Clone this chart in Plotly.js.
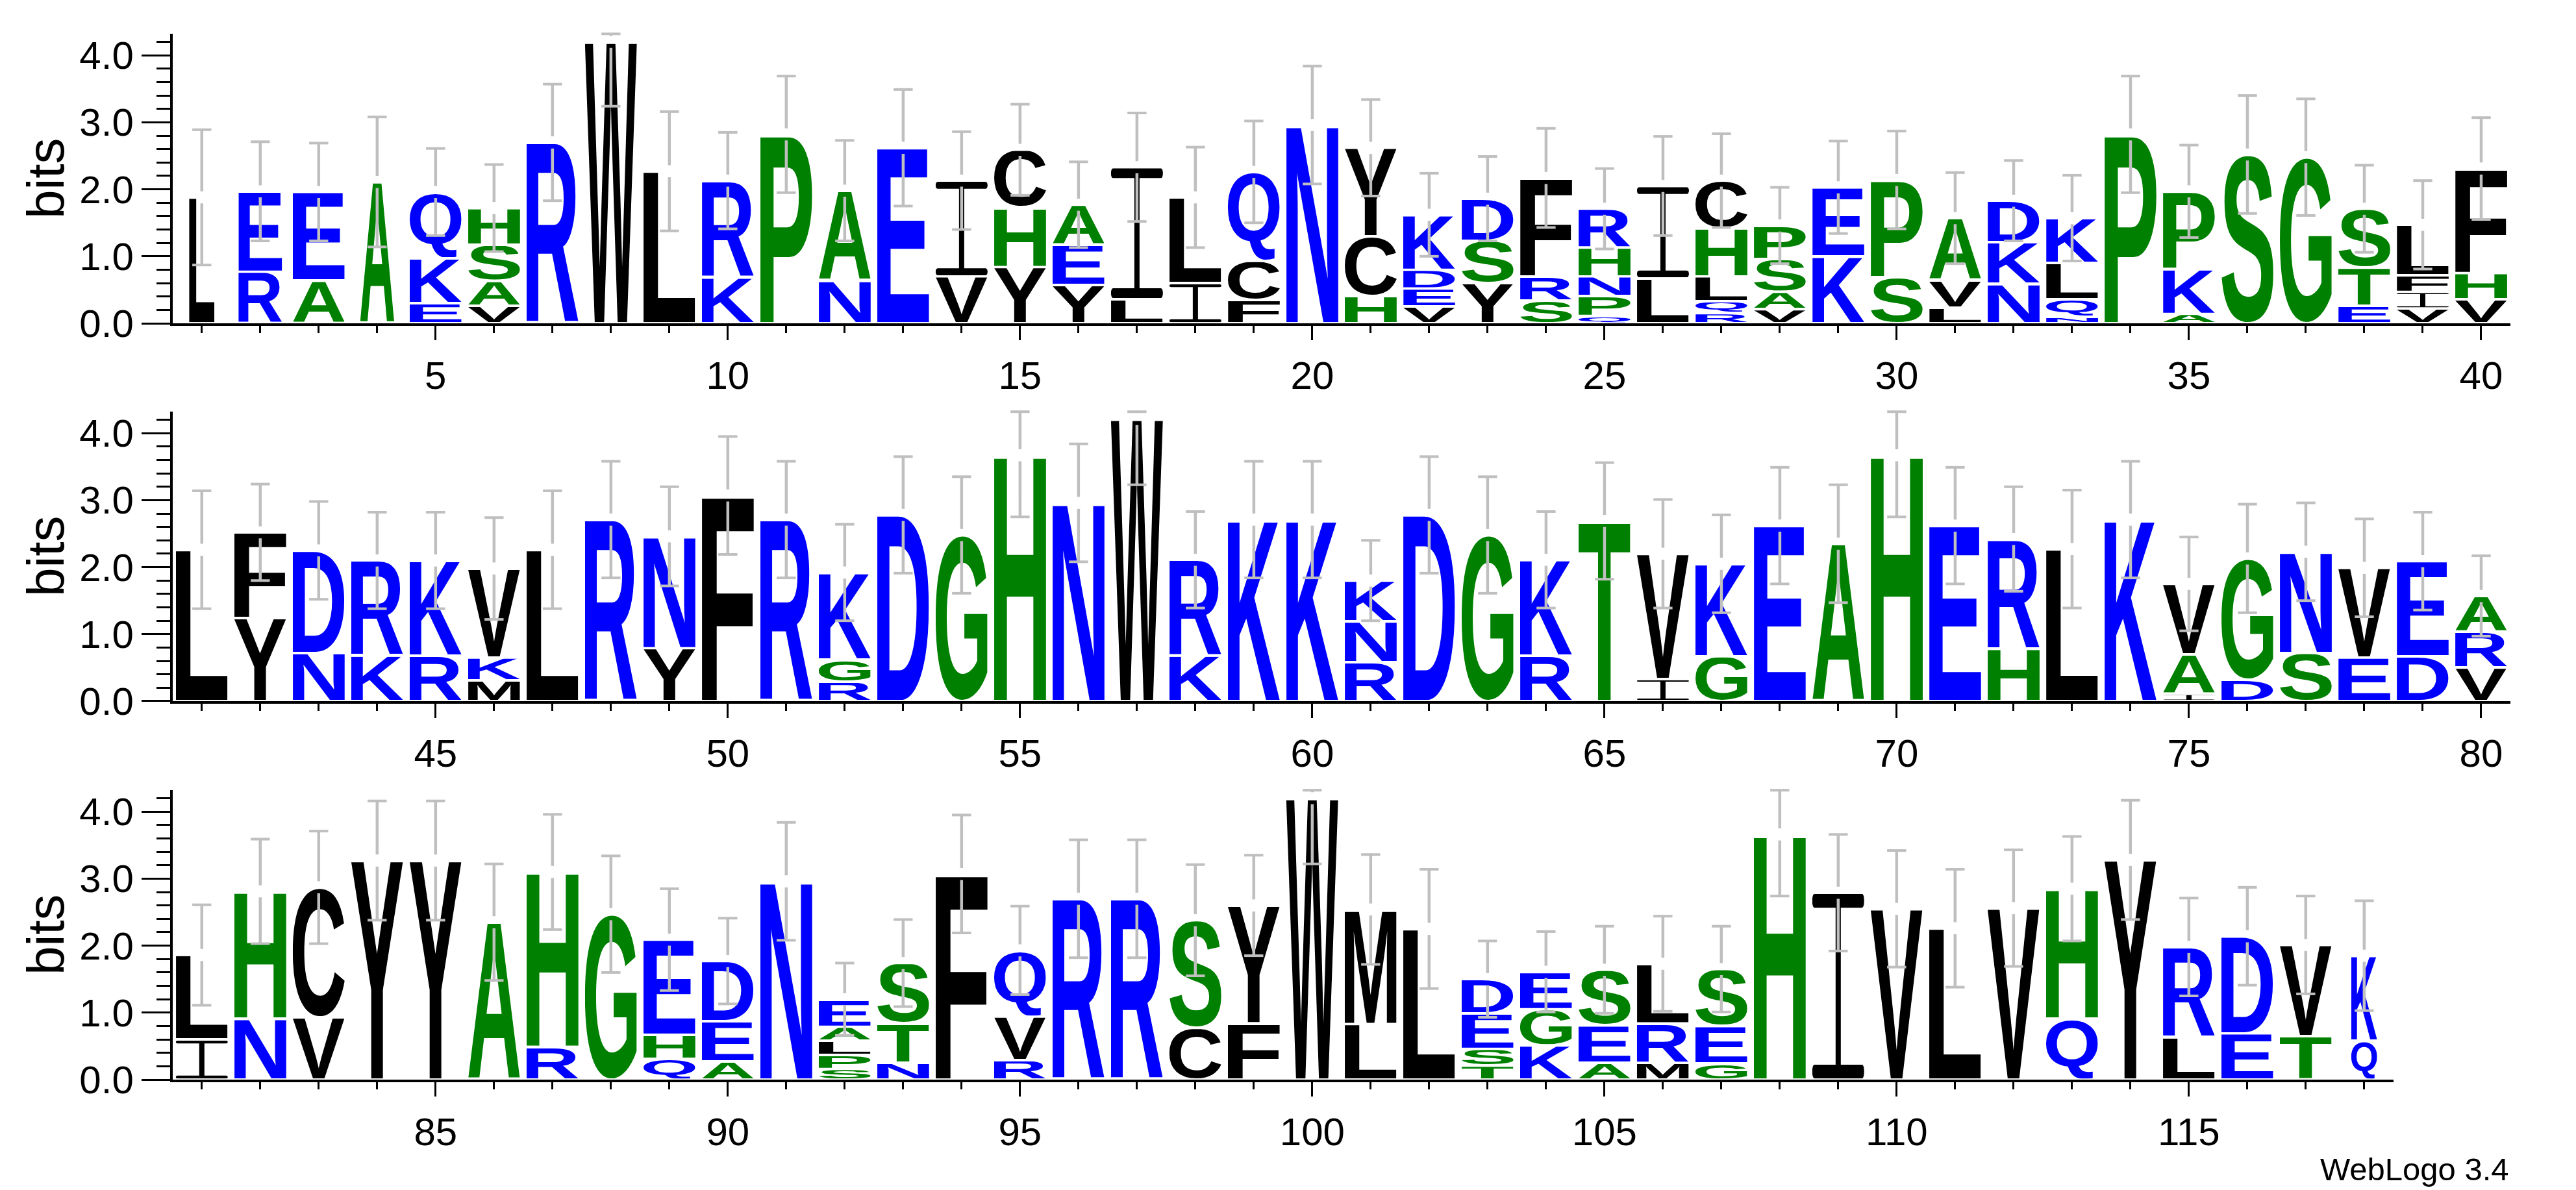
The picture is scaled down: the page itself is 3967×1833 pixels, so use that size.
<!DOCTYPE html>
<html>
<head>
<meta charset="utf-8">
<script src="https://cdn.plot.ly/plotly-3.0.1.min.js"></script>
<style>html,body{margin:0;padding:0;background:#fff}#chart{width:3967px;height:1833px}</style>
</head>
<body>
<div id="chart"></div>
<script>
// ---------- data read from the reference logo ----------
// letters of each stack, listed top to bottom
const stackLetters = [
 "L","ER","EA","A","QKE","HSAV","R","W","L","RK",
 "P","AN","E","IV","CHY","AEY","IL","LI","QCF","N",
 "YCH","KDEV","DSY","FRS","RHNPQ","IL","CHLQR","PSAV","EK","PS",
 "AVL","DKN","KLQN","P","PKA","S","G","STE","LFIV","FHV",
 "L","FY","DN","RK","KR","VKM","L","R","NY","F",
 "R","KGR","D","G","H","N","W","RK","K","K",
 "KNR","D","G","KR","T","VI","KG","E","A","H",
 "E","RH","L","K","VAI","GD","NS","VE","ED","ARV",
 "LI","HN","CV","Y","Y","A","HR","G","EHQ","DEA",
 "N","EALPS","STN","F","QVR","R","R","SC","YF","W",
 "ML","L","DEST","EGK","SEA","LRM","SEG","H","I","V",
 "L","V","HQ","Y","RL","DE","VT","KQ"
];
// letter heights in bits, same order as stackLetters
const stackHeights = [
 [1.88],[1.20,0.77],[1.32,0.64],[2.11],[0.99,0.67,0.30],[0.55,0.54,0.37,0.26],[2.70],[4.20],[2.27],[1.44,0.69],
 [2.82],[1.34,0.64],[2.62],[1.43,0.70],[0.86,0.89,0.84],[0.60,0.60,0.57],[1.97,0.36],[1.28,0.60],[1.33,0.58,0.35],[2.96],
 [1.32,0.89,0.41],[0.82,0.28,0.27,0.25],[0.63,0.63,0.60],[1.47,0.36,0.34],[0.58,0.43,0.29,0.30,0.11],[1.38,0.67],[0.71,0.72,0.37,0.18,0.15],[0.50,0.49,0.26,0.21],[1.03,1.00],[1.45,0.69],
 [0.93,0.41,0.23],[0.62,0.62,0.59],[0.67,0.54,0.26,0.10],[2.82],[1.16,0.67,0.14],[2.52],[2.48],[0.88,0.57,0.26],[0.75,0.25,0.25,0.22],[1.56,0.39,0.36],
 [2.26],[1.28,1.24],[1.53,0.72],[1.42,0.68],[1.42,0.68],[1.33,0.34,0.31],[2.26],[2.71],[1.67,0.79],[3.07],
 [2.71],[1.30,0.33,0.29],[2.78],[2.48],[3.67],[2.96],[4.21],[1.43,0.68],[2.71],[2.71],
 [0.61,0.61,0.58],[2.78],[2.48],[1.43,0.68],[2.69],[1.87,0.33],[1.38,0.67],[2.62],[2.35],[3.67],
 [2.62],[1.64,0.78],[2.27],[2.71],[1.05,0.59,0.11],[1.81,0.32],[1.51,0.72],[1.34,0.65],[1.42,0.67],[0.53,0.54,0.50],
 [1.26,0.60],[1.90,0.91],[1.94,0.93],[3.27],[3.27],[2.35],[2.61,0.49],[2.47],[1.42,0.36,0.31],[0.90,0.60,0.27],
 [2.96],[0.41,0.21,0.21,0.21,0.16],[0.90,0.59,0.25],[3.07],[0.99,0.65,0.29],[2.70],[2.70],[1.61,0.77],[1.76,0.84],[4.20],
 [1.71,0.83],[2.25],[0.51,0.53,0.25,0.21],[0.56,0.54,0.51],[0.83,0.56,0.25],[0.89,0.59,0.25],[0.85,0.56,0.24],[3.66],[2.79],[2.55],
 [2.26],[2.56],[1.94,0.91],[3.28],[1.35,0.63],[1.45,0.69],[1.36,0.65],[1.27,0.58]
];
// half-length of the error bar at each stack top (bits)
const errorHalf = [
 1.01,0.74,0.73,0.97,0.65,0.65,0.87,0.96,0.89,0.72,
 0.87,0.75,0.87,0.73,0.68,0.64,0.81,0.75,0.76,0.88,
 0.72,0.62,0.63,0.74,0.60,0.74,0.70,0.57,0.69,0.73,
 0.68,0.60,0.64,0.87,0.69,0.88,0.87,0.65,0.66,0.76,
 0.88,0.72,0.73,0.72,0.72,0.76,0.88,0.87,0.74,0.88,
 0.87,0.72,0.87,0.87,0.92,0.88,0.98,0.72,0.87,0.87,
 0.60,0.87,0.87,0.72,0.87,0.81,0.73,0.87,0.88,0.92,
 0.87,0.78,0.88,0.87,0.70,0.81,0.73,0.73,0.73,0.60,
 0.75,0.78,0.84,0.89,0.89,0.87,0.86,0.87,0.76,0.64,
 0.88,0.54,0.65,0.88,0.66,0.88,0.88,0.83,0.75,0.98,
 0.82,0.89,0.57,0.60,0.65,0.71,0.64,0.92,0.87,0.87,
 0.88,0.87,0.78,0.89,0.73,0.73,0.73,0.82
];
// fraction of each column that is occupied (stack width scaling)
const columnOccupancy = [0.49,0.84,1,0.66].concat(new Array(113).fill(1)).concat([0.5]);
const yTickLabels = ["0.0","1.0","2.0","3.0","4.0"];
const rowsFirstLast = [[1,40],[41,80],[81,118]];
const yTitle = "bits";
const creditText = "WebLogo 3.4";

// ---------- styles ----------
const FONT = "Liberation Sans, Arial, sans-serif";
const GREEN = "#008000", BLUE = "#0000FF", BLACK = "#000000";
const residueColor = {A:GREEN,G:GREEN,H:GREEN,P:GREEN,S:GREEN,T:GREEN,
  D:BLUE,E:BLUE,K:BLUE,N:BLUE,Q:BLUE,R:BLUE,
  C:BLACK,F:BLACK,I:BLACK,L:BLACK,M:BLACK,V:BLACK,W:BLACK,Y:BLACK};
const YMAX = 4.32, LETTER_W = 0.89, PAD = 0.035, GAP = 0.09;
const ERR_COLOR = "#BFBFBF";

const canvas = document.createElement("canvas");
const ctx = canvas.getContext("2d");
const glyphCache = {};
function glyphURI(ch) {
  const color = residueColor[ch] || BLACK;
  const key = ch + color;
  if (glyphCache[key]) return glyphCache[key];
  let svg;
  if (ch === "I") {
    svg = `<svg xmlns="http://www.w3.org/2000/svg" width="100" height="100" viewBox="0 0 100 100" preserveAspectRatio="none">` +
      `<g fill="${color}"><rect x="0" y="0" width="100" height="7.5" rx="4"/><rect x="0" y="92.5" width="100" height="7.5" rx="4"/>` +
      `<rect x="45" y="3" width="10" height="94"/></g></svg>`;
  } else {
    const fam = "Liberation Sans";
    ctx.font = `bold 200px "${fam}"`;
    const m = ctx.measureText(ch);
    const L = m.actualBoundingBoxLeft, R = m.actualBoundingBoxRight;
    const A = m.actualBoundingBoxAscent, D = m.actualBoundingBoxDescent;
    const w = (L + R).toFixed(2), h = (A + D).toFixed(2);
    svg = `<svg xmlns="http://www.w3.org/2000/svg" width="${w}" height="${h}" viewBox="${(-L).toFixed(2)} ${(-A).toFixed(2)} ${w} ${h}" preserveAspectRatio="none">` +
      `<text x="0" y="0" font-family="${fam}, Arial, sans-serif" font-weight="bold" font-size="200" fill="${color}">${ch}</text></svg>`;
  }
  const uri = "data:image/svg+xml;charset=utf-8," + encodeURIComponent(svg);
  glyphCache[key] = uri;
  return uri;
}

// ---------- build figure ----------
const xDomains = [[0.06700, 0.97454], [0.06700, 0.97454], [0.06700, 0.92912]];
const yDomains = [[0.72831, 0.97152], [0.41080, 0.65401], [0.09274, 0.33595]];
const axisSuffix = ["", "2", "3"];

const images = [];
const traces = [];
const annotations = [{
  text: creditText, xref: "paper", yref: "paper", x: 0.9745, y: 0.0175,
  xanchor: "right", yanchor: "middle", showarrow: false,
  font: {family: FONT, size: 49, color: "#000"}
}];
const layout = {
  width: 3967, height: 1833,
  margin: {l: 0, r: 0, t: 0, b: 0},
  paper_bgcolor: "#fff", plot_bgcolor: "#fff",
  showlegend: false,
  font: {family: FONT, color: "#000"},
  annotations: annotations
};

rowsFirstLast.forEach(([first, last], r) => {
  const sx = axisSuffix[r];
  const xa = "x" + sx, ya = "y" + sx;
  layout["xaxis" + sx] = {
    domain: xDomains[r], range: [first - 0.5, last + 0.5], anchor: ya,
    showline: true, linewidth: 4, linecolor: "#000", mirror: false,
    ticks: "outside", tickmode: "linear", tick0: 0, dtick: 5,
    ticklen: 22, tickwidth: 3, tickcolor: "#000",
    minor: {ticks: "outside", tickmode: "linear", tick0: 0, dtick: 1, ticklen: 11, tickwidth: 3, tickcolor: "#000", showgrid: false},
    showgrid: false, zeroline: false, fixedrange: true,
    tickfont: {family: FONT, size: 60, color: "#000"}, ticklabelstandoff: 3
  };
  layout["yaxis" + sx] = {
    domain: yDomains[r], range: [0, YMAX], anchor: xa,
    showline: true, linewidth: 4, linecolor: "#000",
    ticks: "outside", tickmode: "array", tickvals: yTickLabels.map(Number), ticktext: yTickLabels,
    ticklen: 44, tickwidth: 3, tickcolor: "#000",
    minor: {ticks: "outside", tickmode: "linear", tick0: 0, dtick: 0.2, ticklen: 21, tickwidth: 3, tickcolor: "#000", showgrid: false},
    showgrid: false, zeroline: false, fixedrange: true,
    tickfont: {family: FONT, size: 60, color: "#000"}, ticklabelstandoff: 0
  };
  annotations.push({
    text: yTitle, xref: "paper", yref: "paper", x: 70 / 3967,
    y: (yDomains[r][0] + yDomains[r][1]) / 2, textangle: -90,
    xanchor: "center", yanchor: "middle", showarrow: false,
    font: {family: FONT, size: 80, color: "#000"}
  });

  const barX = [], barY = [], capX = [], capY = [];
  for (let p = first; p <= last; p++) {
    const i = p - 1;
    const letters = stackLetters[i].split("");
    const heights = stackHeights[i];
    const width = LETTER_W * columnOccupancy[i];
    let base = 0;
    for (let k = letters.length - 1; k >= 0; k--) {
      const h = heights[k];
      images.push({
        source: glyphURI(letters[k]), xref: xa, yref: ya,
        x: p, y: base + PAD / 2, sizex: width, sizey: Math.max(h - PAD, 0.01),
        xanchor: "center", yanchor: "bottom", sizing: "stretch", layer: "below"
      });
      base += h;
    }
    const top = base, e = errorHalf[i];
    const hi = Math.min(top + e, YMAX), lo = Math.max(top - e, 0);
    barX.push(p, p, null, p, p, null);
    barY.push(hi, Math.min(top + GAP, hi), null, top - GAP, lo, null);
    capX.push(p, p);
    capY.push(hi, lo);
  }
  traces.push({
    type: "scatter", mode: "lines", x: barX, y: barY, xaxis: xa, yaxis: ya,
    line: {color: ERR_COLOR, width: 4.5}, connectgaps: false, hoverinfo: "skip", showlegend: false
  });
  traces.push({
    type: "scatter", mode: "markers", x: capX, y: capY, xaxis: xa, yaxis: ya, cliponaxis: false,
    marker: {symbol: "line-ew", size: 21, color: ERR_COLOR, line: {color: ERR_COLOR, width: 4}},
    hoverinfo: "skip", showlegend: false
  });
});
layout.images = images;

Plotly.newPlot("chart", traces, layout, {displayModeBar: false, staticPlot: true});
</script>
</body>
</html>
